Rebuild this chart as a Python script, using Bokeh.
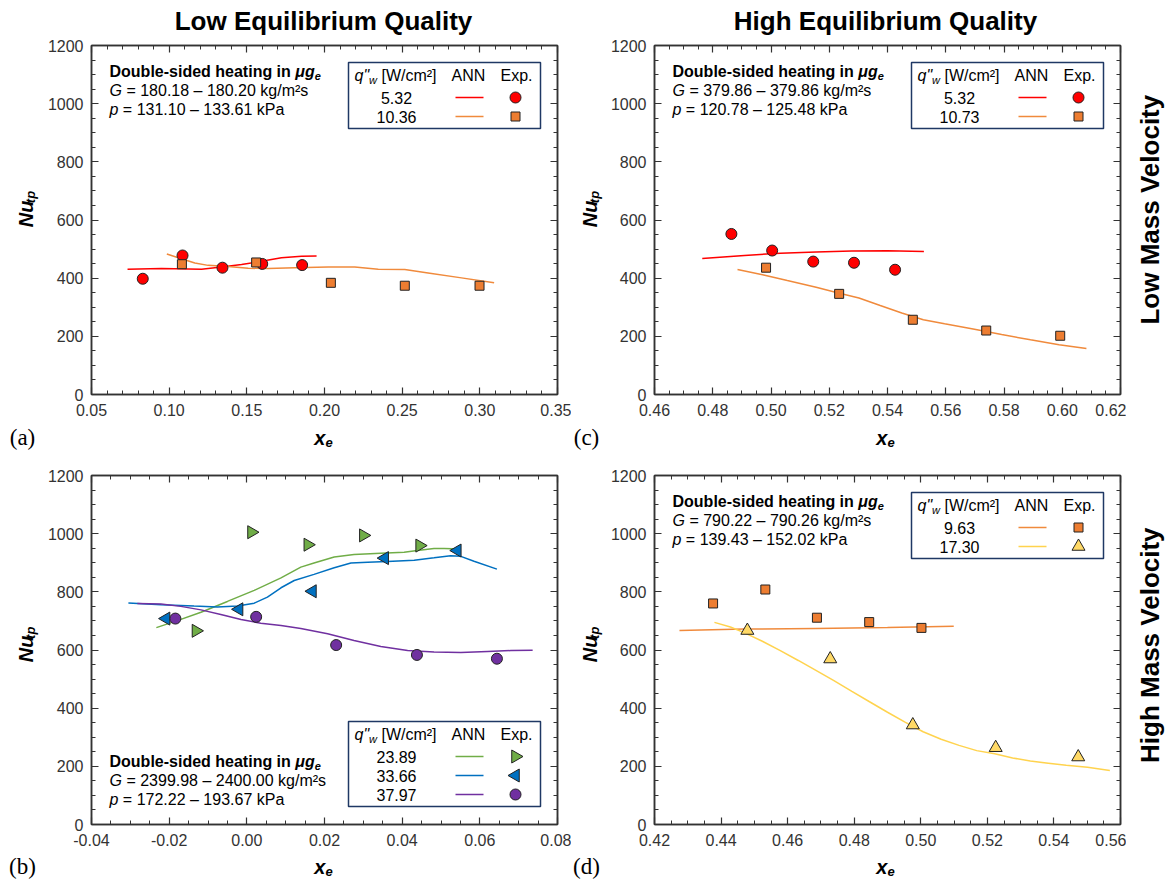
import numpy as np
from bokeh.plotting import figure
from bokeh.models import (Label, FixedTicker, NumeralTickFormatter, LinearAxis, Range1d,
                          CustomLabelingPolicy)
from bokeh.layouts import column, row
from bokeh.embed import file_html
from bokeh.resources import INLINE

# ---------------- data ----------------
Y_TICKS = [0, 200, 400, 600, 800, 1000, 1200]
A_X_TICKS = [0.05, 0.10, 0.15, 0.20, 0.25, 0.30, 0.35]
C_X_TICKS = [0.46, 0.48, 0.50, 0.52, 0.54, 0.56, 0.58, 0.60, 0.62]
B_X_TICKS = [-0.04, -0.02, 0.00, 0.02, 0.04, 0.06, 0.08]
D_X_TICKS = [0.42, 0.44, 0.46, 0.48, 0.50, 0.52, 0.54, 0.56]

COL_TITLES = ["Low Equilibrium Quality", "High Equilibrium Quality"]
ROW_TITLES = ["Low Mass Velocity", "High Mass Velocity"]
PANEL_TAGS = ["(a)", "(c)", "(b)", "(d)"]

# (a) low quality, low mass velocity
a_q = ["5.32", "10.36"]
a_exp1_x = [0.0830, 0.1086, 0.1343, 0.1599, 0.1856]
a_exp1_y = [398, 478, 436, 449, 445]
a_exp2_x = [0.1082, 0.1560, 0.2041, 0.2517, 0.2998]
a_exp2_y = [448, 454, 384, 374, 374]
a_ann1_x = [0.0732, 0.0951, 0.1208, 0.1337, 0.1466, 0.1594, 0.1723, 0.1852, 0.1949]
a_ann1_y = [431, 433, 431, 438, 447, 458, 470, 475, 476]
a_ann2_x = [0.0985, 0.1079, 0.1165, 0.1251, 0.1380, 0.1509, 0.1637, 0.1809, 0.2024,
            0.2195, 0.2346, 0.2517, 0.2667, 0.2882, 0.3092]
a_ann2_y = [483, 467, 452, 444, 440, 434, 433, 436, 438, 438, 431, 430, 418, 401, 384]

# (c) high quality, low mass velocity
c_q = ["5.32", "10.73"]
c_exp1_x = [0.4864, 0.5004, 0.5145, 0.5285, 0.5426]
c_exp1_y = [552, 495, 457, 453, 429]
c_exp2_x = [0.4983, 0.5234, 0.5487, 0.5739, 0.5993]
c_exp2_y = [436, 346, 257, 220, 202]
c_ann1_x = [0.4764, 0.4909, 0.5032, 0.5155, 0.5277, 0.5400, 0.5525]
c_ann1_y = [468, 478, 486, 490, 493, 494, 492]
c_ann2_x = [0.4885, 0.4971, 0.5056, 0.5155, 0.5228, 0.5302, 0.5375, 0.5449, 0.5523,
            0.5596, 0.5694, 0.5792, 0.5891, 0.5989, 0.6083]
c_ann2_y = [430, 412, 392, 369, 350, 332, 306, 280, 257, 243, 225, 206, 188, 171, 158]

# (b) low quality, high mass velocity
b_q = ["23.89", "33.66", "37.97"]
b_exp1_x = [-0.0131, 0.0012, 0.0157, 0.0300, 0.0445]
b_exp1_y = [666, 1005, 962, 994, 959]
b_exp2_x = [-0.0208, -0.0020, 0.0169, 0.0355, 0.0542]
b_exp2_y = [708, 740, 802, 916, 942]
b_exp3_x = [-0.0184, 0.0024, 0.0230, 0.0438, 0.0644]
b_exp3_y = [708, 714, 617, 583, 570]
b_ann1_x = [-0.0233, -0.0179, -0.0118, -0.0050, 0.0019, 0.0088, 0.0139, 0.0173, 0.0225,
            0.0276, 0.0345, 0.0405, 0.0439, 0.0482, 0.0508, 0.0551]
b_ann1_y = [677, 701, 730, 767, 805, 848, 885, 899, 920, 928, 933, 936, 942, 949, 949, 947]
b_ann2_x = [-0.0305, -0.0221, -0.0136, -0.0076, -0.0024, 0.0019, 0.0053, 0.0088, 0.0122,
            0.0173, 0.0225, 0.0268, 0.0311, 0.0362, 0.0431, 0.0482, 0.0525, 0.0551, 0.0585, 0.0644]
b_ann2_y = [762, 756, 751, 748, 751, 761, 782, 814, 839, 860, 883, 899, 902, 904, 909, 917,
            924, 922, 905, 878]
b_ann3_x = [-0.0282, -0.0221, -0.0170, -0.0118, -0.0067, -0.0015, 0.0036, 0.0088, 0.0139,
            0.0208, 0.0276, 0.0345, 0.0414, 0.0482, 0.0551, 0.0620, 0.0680, 0.0736]
b_ann3_y = [760, 758, 750, 738, 722, 705, 692, 684, 674, 656, 633, 612, 598, 593, 591, 595, 598, 599]

# (d) high quality, high mass velocity
d_q = ["9.63", "17.30"]
d_exp1_x = [0.4376, 0.4533, 0.4688, 0.4845, 0.5002]
d_exp1_y = [760, 808, 711, 696, 676]
d_exp2_x = [0.4479, 0.4728, 0.4976, 0.5225, 0.5473]
d_exp2_y = [667, 569, 342, 264, 232]
d_ann1_x = [0.4275, 0.4471, 0.4685, 0.4900, 0.5099]
d_ann1_y = [667, 672, 674, 677, 682]
d_ann2_x = [0.4380, 0.4428, 0.4471, 0.4524, 0.4578, 0.4632, 0.4685, 0.4739, 0.4793, 0.4846,
            0.4900, 0.4954, 0.5007, 0.5061, 0.5115, 0.5168, 0.5222, 0.5276, 0.5329, 0.5383,
            0.5437, 0.5501, 0.5568]
d_ann2_y = [695, 679, 659, 630, 598, 564, 530, 495, 458, 422, 386, 351, 319, 293, 272, 254,
            243, 229, 218, 211, 204, 197, 186]

a_G, a_p = "180.18 – 180.20", "131.10 – 133.61"
c_G, c_p = "379.86 – 379.86", "120.78 – 125.48"
b_G, b_p = "2399.98 – 2400.00", "172.22 – 193.67"
d_G, d_p = "790.22 – 790.26", "139.43 – 152.02"

# ---------------- styling helpers ----------------
FONT = "Liberation Sans"
SERIF = "Liberation Serif"
FW, FH = 466, 349
AXC = "#333333"
RED, ORANGE, ORANGE_L = "#FF0000", "#ED7D31", "#F08A3C"
GREEN, BLUE, PURPLE = "#70AD47", "#0070C0", "#7030A0"
YELLOW, YELLOW_L = "#FFD966", "#FFD34E"
BOXC = "#1F3864"
NB = "\u00a0"

REG = {' ': 278, NB: 278, '"': 355, '(': 333, ')': 333, '-': 333, '.': 278, '/': 278, '=': 584,
       '[': 278, ']': 278, 'A': 667, 'E': 667, 'G': 778, 'N': 722, 'P': 667, 'W': 944,
       'a': 556, 'c': 500, 'e': 556, 'g': 556, 'k': 500, 'm': 833, 'p': 556, 'q': 556,
       's': 500, 'w': 722, 'x': 500, 't': 278, 'u': 556, 'μ': 576, '–': 556, '²': 333}
BOLD = {' ': 278, NB: 278, '-': 333, 'D': 722, 'a': 556, 'b': 611, 'd': 611, 'e': 556, 'g': 611,
        'h': 611, 'i': 278, 'l': 278, 'n': 611, 'o': 611, 's': 556, 't': 333, 'u': 611,
        'μ': 611, 'x': 556, 'N': 722, 'p': 611}

# layout geometry (pixels)
LS_W = 44        # left strip (y-axis title) for left column
MID_W = 36       # strip between columns (y-axis title of right column)
RS_W = 45        # right strip (row titles)
TOP_H = 37       # column-title strip
BOT1_H, BOT2_H = 30, 28
ROW1 = (46, 14, 8, 31)   # left, right, top, bottom borders
ROW1R = (46, 6, 8, 31)
ROW2 = (46, 14, 20, 31)
ROW2R = (46, 6, 20, 31)
TOTAL_W = 1168


def tw(text, style, size):
    table = BOLD if "bold" in style else REG
    return sum(table.get(ch, 556) for ch in text) * size / 1000.0


def to_data(p, fx, fy):
    x0, x1 = p.x_range.start, p.x_range.end
    y0, y1 = p.y_range.start, p.y_range.end
    return x0 + fx / FW * (x1 - x0), y1 - fy / FH * (y1 - y0)


def nb(text):
    return text.replace(" ", NB) if (text.startswith(" ") or text.endswith(" ")) else text


def label(p, fx, fy, text, size=16, style="normal", align="left", font=FONT, angle=0):
    x, y = to_data(p, fx, fy)
    p.add_layout(Label(x=x, y=y, text=nb(text), text_font=font, text_font_size=f"{size}px",
                       text_font_style=style, text_align=align, text_baseline="middle",
                       angle=angle, angle_units="deg", text_color="black"))


def rich(p, fx, fy, parts):
    for text, style, size, dy in parts:
        label(p, fx, fy + dy, text, size, style)
        fx += tw(text, style, size)


def strip(w, h):
    s = figure(width=w, height=h, x_range=Range1d(0, w), y_range=Range1d(h, 0), min_border=0,
               toolbar_location=None, output_backend="svg", title=None,
               x_axis_location=None, y_axis_location=None)
    s.xgrid.visible = False
    s.ygrid.visible = False
    s.outline_line_color = None
    s.background_fill_color = "white"
    s.border_fill_color = "white"
    return s


def slabel(s, x, y, text, size, style="normal", align="left", font=FONT, angle=0):
    s.add_layout(Label(x=x, y=y, text=nb(text), text_font=font, text_font_size=f"{size}px",
                       text_font_style=style, text_align=align, text_baseline="middle",
                       angle=angle, angle_units="deg", text_color="black"))


def x_title(s, cx, cy):
    xw = tw("x", "bold", 20) + tw("e", "bold", 13)
    x0 = cx - xw / 2
    slabel(s, x0, cy, "x", 20, "bold italic")
    slabel(s, x0 + tw("x", "bold", 20), cy + 5, "e", 13, "bold italic")


def y_title(s, cx, cy):
    nu_w = tw("Nu", "bold", 20)
    tp_w = tw("tp", "bold", 13)
    ys = cy + (nu_w + tp_w) / 2
    slabel(s, cx, ys, "Nu", 20, "bold italic", angle=90)
    slabel(s, cx + 5, ys - nu_w, "tp", 13, "bold italic", angle=90)


HIDE_LABELS = "for (const i of indices) { indices.unset(i) }"


def make_fig(xr, xticks, step, borders):
    l, r, t, b = borders
    p = figure(frame_width=FW, frame_height=FH, x_range=Range1d(xr[0], xr[-1]),
               y_range=Range1d(Y_TICKS[0], Y_TICKS[-1]),
               min_border_left=l, min_border_right=r, min_border_top=t, min_border_bottom=b,
               toolbar_location=None, output_backend="svg", title=None)
    p.xgrid.visible = False
    p.ygrid.visible = False
    p.background_fill_color = "white"
    p.border_fill_color = "white"
    p.outline_line_color = AXC
    p.outline_line_width = 1.5
    xminor = list(np.round(np.arange(xr[0], xr[-1] + step / 2, step), 4))
    yminor = list(range(0, 1201, 50))
    xt = FixedTicker(ticks=xticks, minor_ticks=xminor)
    yt = FixedTicker(ticks=Y_TICKS, minor_ticks=yminor)
    p.xaxis.ticker = xt
    p.yaxis.ticker = yt
    p.xaxis.formatter = NumeralTickFormatter(format="0.00")
    top = LinearAxis(ticker=xt)
    right = LinearAxis(ticker=yt)
    for ax in [p.xaxis[0], p.yaxis[0], top, right]:
        ax.axis_line_color = AXC
        ax.axis_line_width = 1.5
        ax.major_tick_in = 7
        ax.major_tick_out = 0
        ax.minor_tick_in = 4
        ax.minor_tick_out = 0
        ax.major_tick_line_color = AXC
        ax.minor_tick_line_color = AXC
        ax.major_tick_line_width = 1.2
        ax.minor_tick_line_width = 1
        ax.major_label_text_font = FONT
        ax.major_label_text_font_size = "16px"
        ax.major_label_text_color = AXC
    p.xaxis[0].major_label_standoff = 9
    p.yaxis[0].major_label_standoff = 8
    for ax in (top, right):
        ax.major_label_text_font_size = "1px"
        ax.major_label_standoff = 0
        ax.major_label_policy = CustomLabelingPolicy(code=HIDE_LABELS)
    p.add_layout(top, "above")
    p.add_layout(right, "right")
    return p


def annotation(p, fy, G, pk):
    rich(p, 18, fy, [("Double-sided heating in ", "bold", 16, 0), ("μg", "bold italic", 16, 0),
                     ("e", "bold italic", 11, 4)])
    rich(p, 18, fy + 19, [("G", "italic", 16, 0), (f" = {G} kg/m²s", "normal", 16, 0)])
    rich(p, 18, fy + 38, [("p", "italic", 16, 0), (f" = {pk} kPa", "normal", 16, 0)])


def scatter(p, x, y, marker, fill, size, angle=0.0):
    p.scatter(x=x, y=y, marker=marker, size=size, fill_color=fill, line_color="#222222",
              line_width=1, angle=angle)


def legend_box(p, top, rows):
    left, right = 257, 449
    bottom = top + 28 + 19 * len(rows)
    x0, y0 = to_data(p, left, top)
    x1, y1 = to_data(p, right, bottom)
    p.quad(left=[x0], right=[x1], top=[y0], bottom=[y1], fill_color="white",
           line_color=BOXC, line_width=1.5)
    hc = top + 13
    rich(p, 263, hc, [('q"', "italic", 16, 0), ("w", "italic", 11, 4), (" [W/cm²]", "normal", 16, 0)])
    label(p, 377, hc, "ANN", 16, align="center")
    label(p, 425, hc, "Exp.", 16, align="center")
    for i, (val, lc, marker, fill, size, ang) in enumerate(rows):
        yc = top + 35 + 19 * i
        label(p, 305, yc, val, 16, align="center")
        xa, ya = to_data(p, 364, yc)
        xb, _ = to_data(p, 392, yc)
        p.line(x=[xa, xb], y=[ya, ya], line_color=lc, line_width=1.5)
        xm, ym = to_data(p, 424, yc)
        scatter(p, [xm], [ym], marker, fill, size, ang)


RIGHT = -np.pi / 2
LEFT = np.pi / 2
CS, SS, TS = 11, 9, 13   # circle, square, triangle marker sizes

# ---------------- panel (a) ----------------
pa = make_fig(A_X_TICKS, A_X_TICKS, 0.01, ROW1)
pa.line(a_ann1_x, a_ann1_y, line_color=RED, line_width=1.5)
pa.line(a_ann2_x, a_ann2_y, line_color=ORANGE_L, line_width=1.5)
scatter(pa, a_exp1_x, a_exp1_y, "circle", RED, CS)
scatter(pa, a_exp2_x, a_exp2_y, "square", ORANGE, SS)
annotation(pa, 26, a_G, a_p)
legend_box(pa, 17, [(a_q[0], RED, "circle", RED, CS, 0.0), (a_q[1], ORANGE_L, "square", ORANGE, SS, 0.0)])

# ---------------- panel (c) ----------------
pc = make_fig(C_X_TICKS, C_X_TICKS, 0.005, ROW1R)
pc.line(c_ann1_x, c_ann1_y, line_color=RED, line_width=1.5)
pc.line(c_ann2_x, c_ann2_y, line_color=ORANGE_L, line_width=1.5)
scatter(pc, c_exp1_x, c_exp1_y, "circle", RED, CS)
scatter(pc, c_exp2_x, c_exp2_y, "square", ORANGE, SS)
annotation(pc, 26, c_G, c_p)
legend_box(pc, 17, [(c_q[0], RED, "circle", RED, CS, 0.0), (c_q[1], ORANGE_L, "square", ORANGE, SS, 0.0)])

# ---------------- panel (b) ----------------
pb = make_fig(B_X_TICKS, B_X_TICKS, 0.005, ROW2)
pb.line(b_ann1_x, b_ann1_y, line_color=GREEN, line_width=1.5)
pb.line(b_ann2_x, b_ann2_y, line_color=BLUE, line_width=1.5)
pb.line(b_ann3_x, b_ann3_y, line_color=PURPLE, line_width=1.5)
scatter(pb, b_exp1_x, b_exp1_y, "triangle", GREEN, TS, RIGHT)
scatter(pb, b_exp2_x, b_exp2_y, "triangle", BLUE, TS, LEFT)
scatter(pb, b_exp3_x, b_exp3_y, "circle", PURPLE, CS)
annotation(pb, 286, b_G, b_p)
legend_box(pb, 246, [(b_q[0], GREEN, "triangle", GREEN, TS, RIGHT),
                     (b_q[1], BLUE, "triangle", BLUE, TS, LEFT),
                     (b_q[2], PURPLE, "circle", PURPLE, CS, 0.0)])

# ---------------- panel (d) ----------------
pd = make_fig(D_X_TICKS, D_X_TICKS, 0.005, ROW2R)
pd.line(d_ann1_x, d_ann1_y, line_color=ORANGE_L, line_width=1.5)
pd.line(d_ann2_x, d_ann2_y, line_color=YELLOW_L, line_width=1.5)
scatter(pd, d_exp1_x, d_exp1_y, "square", ORANGE, SS)
scatter(pd, d_exp2_x, d_exp2_y, "triangle", YELLOW, TS)
annotation(pd, 26, d_G, d_p)
legend_box(pd, 17, [(d_q[0], ORANGE_L, "square", ORANGE, SS, 0.0),
                    (d_q[1], YELLOW_L, "triangle", YELLOW, TS, 0.0)])

# ---------------- text strips around the panels ----------------
row1_h = ROW1[2] + FH + ROW1[3]
row2_h = ROW2[2] + FH + ROW2[3]
colA_frame_cx = LS_W + ROW1[0] + FW / 2
colC_left = LS_W + ROW1[0] + FW + ROW1[1] + MID_W
colC_frame_cx = colC_left + ROW1R[0] + FW / 2

top_strip = strip(TOTAL_W, TOP_H)
slabel(top_strip, colA_frame_cx, 20, COL_TITLES[0], 26, "bold", align="center")
slabel(top_strip, colC_frame_cx, 20, COL_TITLES[1], 26, "bold", align="center")

left1 = strip(LS_W, row1_h)
y_title(left1, 25, ROW1[2] + FH / 2)
mid1 = strip(MID_W, row1_h)
y_title(mid1, 18, ROW1[2] + FH / 2)
right1 = strip(RS_W, row1_h)
slabel(right1, 23, ROW1[2] + FH / 2, ROW_TITLES[0], 26, "bold", align="center", angle=90)

bot1 = strip(TOTAL_W, BOT1_H)
slabel(bot1, 22, 12, PANEL_TAGS[0], 23, align="center", font=SERIF)
x_title(bot1, colA_frame_cx, 12)
slabel(bot1, colC_left - 20, 12, PANEL_TAGS[1], 23, align="center", font=SERIF)
x_title(bot1, colC_frame_cx, 12)

left2 = strip(LS_W, row2_h)
y_title(left2, 25, ROW2[2] + FH / 2)
mid2 = strip(MID_W, row2_h)
y_title(mid2, 18, ROW2[2] + FH / 2)
right2 = strip(RS_W, row2_h)
slabel(right2, 23, ROW2[2] + FH / 2, ROW_TITLES[1], 26, "bold", align="center", angle=90)

bot2 = strip(TOTAL_W, BOT2_H)
slabel(bot2, 22, 11, PANEL_TAGS[2], 23, align="center", font=SERIF)
x_title(bot2, colA_frame_cx, 11)
slabel(bot2, colC_left - 20, 11, PANEL_TAGS[3], 23, align="center", font=SERIF)
x_title(bot2, colC_frame_cx, 11)

layout = column(top_strip,
                row(left1, pa, mid1, pc, right1),
                bot1,
                row(left2, pb, mid2, pd, right2),
                bot2)
open("out.html", "w").write(file_html(layout, INLINE))
